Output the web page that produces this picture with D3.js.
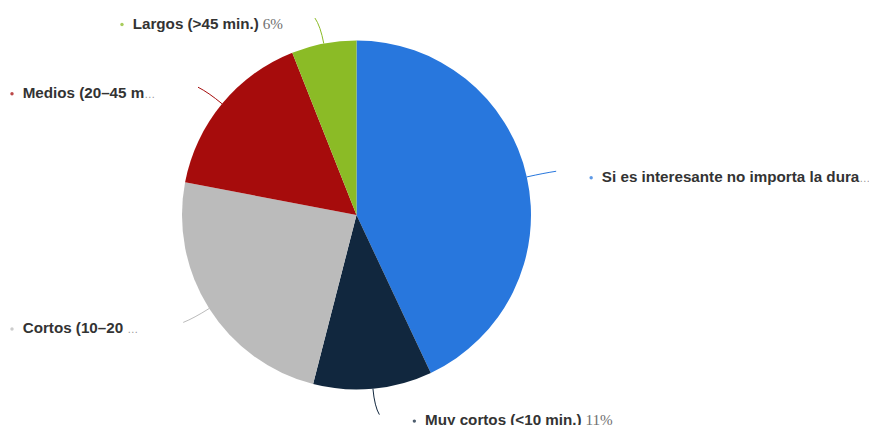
<!DOCTYPE html>
<html>
<head>
<meta charset="utf-8">
<script src="https://cdn.jsdelivr.net/npm/d3@7"></script>
<style>
  html, body { margin: 0; padding: 0; background: #ffffff; }
  svg { display: block; }
</style>
</head>
<body>
<svg id="chart" width="869" height="425"></svg>
<script>
// Preferred length of online videos (share of respondents)
const categories = [
  "Si es interesante no importa la duración",
  "Muy cortos (<10 min.)",
  "Cortos (10–20 min.)",
  "Medios (20–45 min.)",
  "Largos (>45 min.)"
];
const values = [43, 11, 24, 16, 6];
const colors = ["#2877dd", "#11273e", "#bbbbbb", "#a60c0c", "#8bbb26"];

const W = 869, H = 425;
const cx = 356.5, cy = 215, radius = 174.5;

const svg = d3.select("#chart");

const data = categories.map((name, i) => ({ name, value: values[i], color: colors[i] }));

const pie = d3.pie()
  .sort(null)
  .value(d => d.value)
  .startAngle(0)
  .endAngle(2 * Math.PI);

const arcs = pie(data);
const arc = d3.arc().innerRadius(0).outerRadius(radius);

const g = svg.append("g").attr("transform", `translate(${cx},${cy})`);

g.selectAll("path.slice")
  .data(arcs)
  .join("path")
  .attr("class", "slice")
  .attr("d", arc)
  .attr("fill", d => d.data.color);

// polar helper: angle measured clockwise from 12 o'clock
const polar = (a, r) => [r * Math.sin(a), -r * Math.cos(a)];

const labelFont = "'Liberation Sans', Arial, sans-serif";
const pctFont = "'Liberation Serif', 'Times New Roman', serif";
const fontSize = 15.2;
const textGap = 10.7;      // bullet to text
const leftEdge = 12, rightEdge = 876;

const labels = svg.append("g");

arcs.forEach(d => {
  const mid = (d.startAngle + d.endAngle) / 2;
  const side = mid < Math.PI ? 1 : -1;
  const p0 = polar(mid, radius);
  const p1 = polar(mid, radius + 18);
  const pe = polar(mid, radius + 26);
  const end = [pe[0] + side * 4, pe[1]];

  // connector
  g.append("path")
    .attr("d", `M${p0[0]},${p0[1]} Q${p1[0]},${p1[1]} ${end[0]},${end[1]}`)
    .attr("fill", "none")
    .attr("stroke", d.data.color)
    .attr("stroke-width", 1);

  const ex = cx + end[0], ey = cy + end[1];
  const rowY = ey + 6.5;

  const lg = labels.append("g");
  const bullet = lg.append("circle")
    .attr("r", 1.7)
    .attr("cy", rowY)
    .attr("fill", d.data.color)
    .attr("opacity", 0.75);

  const text = lg.append("text")
    .attr("y", rowY + 4.3)
    .attr("font-family", labelFont)
    .attr("font-size", fontSize)
    .attr("font-weight", "bold")
    .attr("fill", "#333333");

  function build(name, withPct, ellipsis) {
    text.selectAll("tspan").remove();
    text.append("tspan").text(name);
    if (withPct) {
      text.append("tspan")
        .attr("font-family", pctFont)
        .attr("font-weight", "normal")
        .attr("fill", "#707070")
        .text(" " + d.data.value + "%");
    }
    if (ellipsis) {
      text.append("tspan")
        .attr("font-size", 11)
        .attr("font-weight", "normal")
        .attr("fill", "#999999")
        .text("…");
    }
    return text.node().getComputedTextLength();
  }

  const fullW = build(d.data.name, true, false);
  let bx, avail;
  if (side > 0) {
    bx = ex + 35;
    avail = rightEdge - (bx + textGap);
  } else {
    const rightLimit = ex - 32;
    if (rightLimit - fullW - textGap >= leftEdge) {
      bx = rightLimit - fullW - textGap;
      avail = fullW;
    } else {
      bx = leftEdge;
      avail = rightLimit - leftEdge - textGap - 9;
    }
  }

  if (fullW > avail) {
    let name = d.data.name;
    while (name.length > 1 && build(name, false, true) > avail) {
      name = name.slice(0, -1);
    }
  }

  bullet.attr("cx", bx);
  text.attr("x", bx + textGap);
});
</script>
</body>
</html>
